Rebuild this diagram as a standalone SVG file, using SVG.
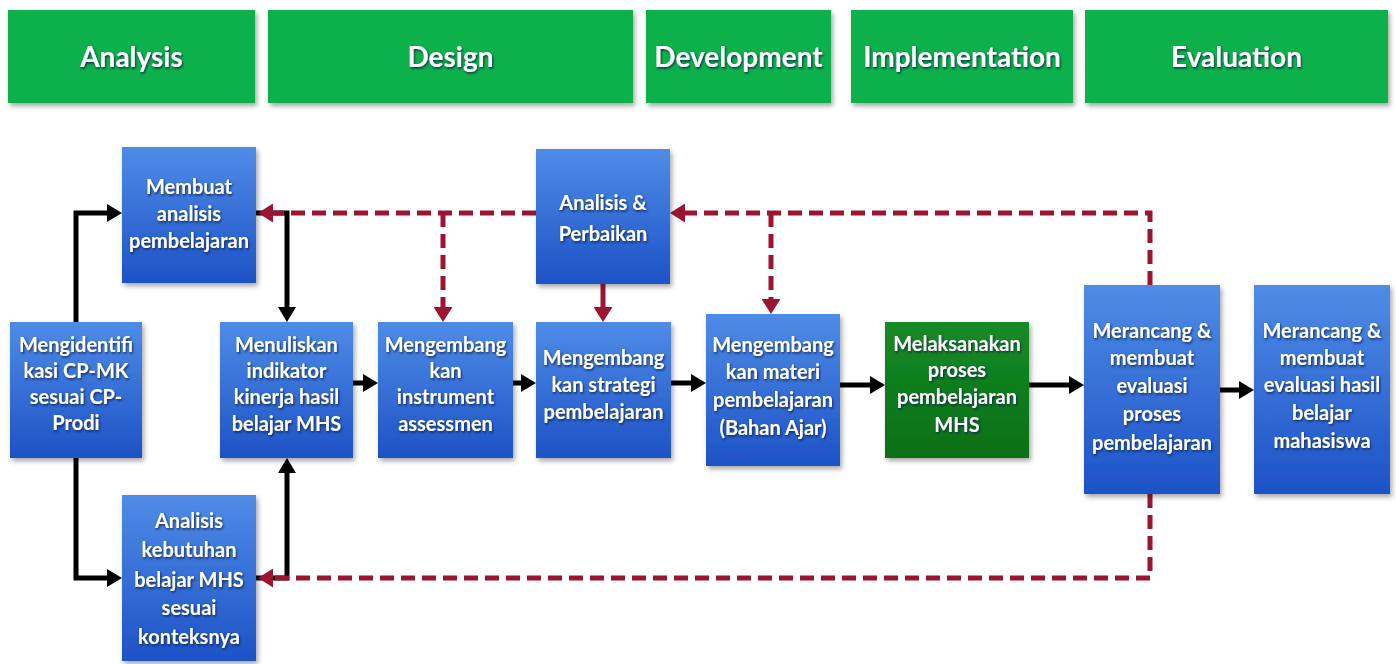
<svg xmlns="http://www.w3.org/2000/svg" width="1396" height="664" viewBox="0 0 1396 664">
<defs>
<linearGradient id="gBlue" x1="0" y1="0" x2="0" y2="1">
<stop offset="0" stop-color="#4f8ce6"/>
<stop offset="1" stop-color="#1d52c6"/>
</linearGradient>
<linearGradient id="gDark" x1="0" y1="0" x2="0" y2="1">
<stop offset="0" stop-color="#158a26"/>
<stop offset="1" stop-color="#0a6f17"/>
</linearGradient>
<filter id="boxSh" x="-10%" y="-10%" width="125%" height="125%">
<feDropShadow dx="2" dy="3" stdDeviation="2.5" flood-color="#000" flood-opacity="0.35"/>
</filter>
<filter id="txtSh" x="-10%" y="-20%" width="120%" height="150%">
<feDropShadow dx="1" dy="1.5" stdDeviation="0.8" flood-color="#10204a" flood-opacity="0.85"/>
</filter>
<marker id="aBlack" markerUnits="userSpaceOnUse" markerWidth="15" markerHeight="18" refX="0" refY="9" orient="auto" viewBox="0 0 15 18">
<path d="M0,0 L15,9 L0,18 Z" fill="#000"/>
</marker>
<marker id="aRed" markerUnits="userSpaceOnUse" markerWidth="15" markerHeight="19" refX="0" refY="9.5" orient="auto" viewBox="0 0 15 19">
<path d="M0,0 L15,9.5 L0,19 Z" fill="#9c1530"/>
</marker>
</defs>
<style>
.hdr{fill:#0db14b;filter:url(#boxSh)}
.ht{font-family:Lato,"Open Sans",sans-serif;font-weight:bold;font-size:28px;fill:#fff;text-anchor:middle;filter:url(#txtSh)}
.box{fill:url(#gBlue);filter:url(#boxSh)}
.gbox{fill:url(#gDark);filter:url(#boxSh)}
.nt{font-family:Lato,"Open Sans",sans-serif;font-weight:bold;font-size:20px;fill:#fff;text-anchor:middle;filter:url(#txtSh)}
.blk{fill:none;stroke:#000;stroke-width:5;marker-end:url(#aBlack)}
.red{fill:none;stroke:#9c1530;stroke-width:5;stroke-dasharray:14 7;marker-end:url(#aRed)}
.reds{fill:none;stroke:#9c1530;stroke-width:5;marker-end:url(#aRed)}
</style>
<rect width="1396" height="664" fill="#fff"/>

<g id="phases">
<g id="ph-analysis"><rect class="hdr" x="8" y="10" width="247" height="93"/><text class="ht" x="131.5" y="67">Analysis</text></g>
<g id="ph-design"><rect class="hdr" x="268" y="10" width="365" height="93"/><text class="ht" x="450.5" y="67">Design</text></g>
<g id="ph-development"><rect class="hdr" x="646" y="10" width="185" height="93"/><text class="ht" x="738.5" y="67">Development</text></g>
<g id="ph-implementation"><rect class="hdr" x="851" y="10" width="222" height="93"/><text class="ht" x="962" y="67">Implementation</text></g>
<g id="ph-evaluation"><rect class="hdr" x="1085" y="10" width="303" height="93"/><text class="ht" x="1236.5" y="67">Evaluation</text></g>
</g>

<g id="connectors">
<path class="blk" d="M76,322 V213 H107"/>
<path class="blk" d="M76,458 V578 H107"/>
<path class="blk" d="M256,213 H287 V307"/>
<path class="blk" d="M256,578 H287 V473"/>
<path class="blk" d="M353,383 H363"/>
<path class="blk" d="M513,383 H521"/>
<path class="blk" d="M671,383 H691"/>
<path class="blk" d="M840,385 H870"/>
<path class="blk" d="M1029,385 H1069"/>
<path class="blk" d="M1220,390 H1239"/>
<path class="red" d="M536,213 H273"/>
<path class="red" d="M443,213 V307"/>
<path class="red" d="M1150,285 V213 H685"/>
<path class="red" d="M771,213 V299"/>
<path class="red" d="M1150,494 V578 H273"/>
<path class="reds" d="M603,284 V307"/>
</g>

<g id="n-membuat"><rect class="box" x="122" y="147" width="134" height="136"/>
<text class="nt" x="189" y="194">Membuat</text><text class="nt" x="189" y="221">analisis</text><text class="nt" x="189" y="248">pembelajaran</text></g>

<g id="n-identifikasi"><rect class="box" x="10" y="322" width="132" height="136"/>
<text class="nt" x="76" y="352">Mengidentifi</text><text class="nt" x="76" y="378">kasi CP-MK</text><text class="nt" x="76" y="404">sesuai CP-</text><text class="nt" x="76" y="430">Prodi</text></g>

<g id="n-kebutuhan"><rect class="box" x="122" y="495" width="134" height="166"/>
<text class="nt" x="189" y="528">Analisis</text><text class="nt" x="189" y="557">kebutuhan</text><text class="nt" x="189" y="587">belajar MHS</text><text class="nt" x="189" y="615">sesuai</text><text class="nt" x="189" y="644">konteksnya</text></g>

<g id="n-indikator"><rect class="box" x="220" y="322" width="133" height="136"/>
<text class="nt" x="286.5" y="352">Menuliskan</text><text class="nt" x="286.5" y="378">indikator</text><text class="nt" x="286.5" y="404">kinerja hasil</text><text class="nt" x="286.5" y="431">belajar MHS</text></g>

<g id="n-instrument"><rect class="box" x="378" y="322" width="135" height="136"/>
<text class="nt" x="445.5" y="352">Mengembang</text><text class="nt" x="445.5" y="378">kan</text><text class="nt" x="445.5" y="404">instrument</text><text class="nt" x="445.5" y="431">assessmen</text></g>

<g id="n-perbaikan"><rect class="box" x="536" y="149" width="134" height="135"/>
<text class="nt" x="603" y="210">Analisis &amp;</text><text class="nt" x="603" y="241">Perbaikan</text></g>

<g id="n-strategi"><rect class="box" x="536" y="322" width="135" height="136"/>
<text class="nt" x="603.5" y="365">Mengembang</text><text class="nt" x="603.5" y="392">kan strategi</text><text class="nt" x="603.5" y="419">pembelajaran</text></g>

<g id="n-materi"><rect class="box" x="706" y="314" width="134" height="152"/>
<text class="nt" x="773" y="352">Mengembang</text><text class="nt" x="773" y="379">kan materi</text><text class="nt" x="773" y="407">pembelajaran</text><text class="nt" x="773" y="435">(Bahan Ajar)</text></g>

<g id="n-melaksanakan"><rect class="gbox" x="885" y="322" width="144" height="136"/>
<text class="nt" x="957" y="351">Melaksanakan</text><text class="nt" x="957" y="377">proses</text><text class="nt" x="957" y="404">pembelajaran</text><text class="nt" x="957" y="432">MHS</text></g>

<g id="n-evalproses"><rect class="box" x="1084" y="285" width="136" height="209"/>
<text class="nt" x="1152" y="338">Merancang &amp;</text><text class="nt" x="1152" y="365">membuat</text><text class="nt" x="1152" y="393">evaluasi</text><text class="nt" x="1152" y="421">proses</text><text class="nt" x="1152" y="450">pembelajaran</text></g>

<g id="n-evalhasil"><rect class="box" x="1254" y="285" width="136" height="209"/>
<text class="nt" x="1322" y="338">Merancang &amp;</text><text class="nt" x="1322" y="365">membuat</text><text class="nt" x="1322" y="392">evaluasi hasil</text><text class="nt" x="1322" y="420">belajar</text><text class="nt" x="1322" y="448">mahasiswa</text></g>
</svg>
